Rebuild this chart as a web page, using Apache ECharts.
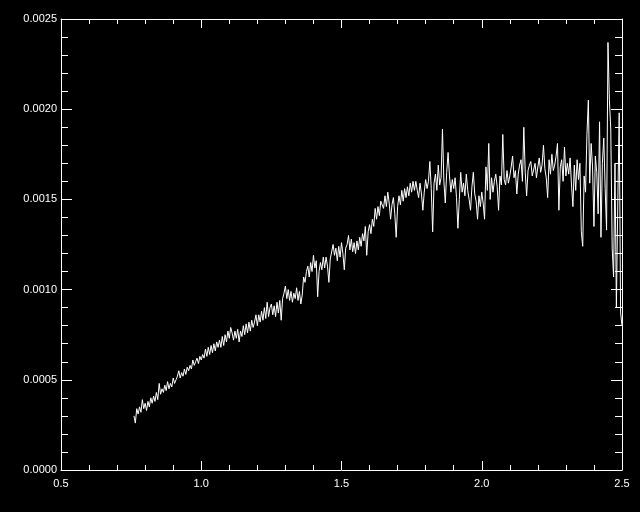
<!DOCTYPE html>
<html>
<head>
<meta charset="utf-8">
<script src="https://cdn.jsdelivr.net/npm/echarts@6/dist/echarts.min.js"></script>
<style>
html,body{margin:0;padding:0;background:#000;}
#chart{width:640px;height:512px;}
</style>
</head>
<body>
<div id="chart"></div>
<script>
// x sampling of the spectrum
var xStart = 0.76;
var xStep = 0.005;
// y values in units of 1e-4
var yValues = [
3.0, 2.6, 3.4, 3.1, 3.5, 3.2, 3.9, 3.4, 3.7, 3.3,
3.8, 3.5, 4.0, 3.7, 4.1, 3.8, 4.3, 3.9, 4.8, 4.2,
4.5, 4.3, 4.7, 4.4, 4.9, 4.5, 4.8, 4.6, 5.1, 4.8,
5.0, 5.2, 5.5, 5.1, 5.4, 5.2, 5.6, 5.3, 5.7, 5.5,
5.8, 5.6, 6.1, 5.8, 6.0, 6.2, 5.9, 6.3, 6.1, 6.4,
6.2, 6.7, 6.3, 6.8, 6.4, 6.9, 6.5, 7.0, 6.6, 7.1,
6.8, 7.2, 6.8, 7.4, 6.9, 7.5, 7.1, 7.7, 7.3, 7.9,
7.6, 7.2, 7.7, 7.3, 7.8, 7.1, 7.7, 7.4, 8.0, 7.5,
8.1, 7.6, 8.2, 7.7, 8.3, 7.9, 8.2, 8.6, 8.0, 8.6,
8.2, 8.8, 8.3, 9.0, 8.4, 9.3, 8.5, 9.0, 9.2, 8.6,
9.1, 8.5, 9.3, 8.7, 9.4, 8.3, 9.5, 9.8, 10.2, 9.5,
10.0, 9.4, 9.9, 9.3, 9.8, 9.5, 10.1, 9.4, 9.9, 9.2,
9.7, 10.7, 10.4, 11.0, 11.3, 10.7, 11.5, 11.0, 11.9, 11.2,
11.6, 9.6, 11.0, 11.5, 11.1, 11.8, 11.2, 11.8, 11.3, 10.4,
11.7, 11.8, 12.5, 11.9, 12.3, 11.6, 12.4, 11.8, 12.6, 12.0,
11.1, 12.3, 12.5, 13.0, 12.2, 12.8, 12.1, 12.6, 12.0, 12.7,
12.2, 12.9, 12.4, 13.1, 12.7, 13.5, 11.9, 13.2, 13.6, 13.1,
13.9, 13.5, 14.5, 13.9, 14.6, 14.1, 14.9, 15.0, 14.5, 15.2,
14.6, 15.4, 14.8, 13.9, 14.7, 15.1, 14.2, 12.9, 14.6, 15.2,
14.7, 15.5, 14.9, 15.6, 15.1, 15.7, 15.2, 15.9, 15.4, 16.0,
15.5, 16.0, 15.5, 15.1, 15.9, 15.3, 14.4, 15.4, 16.1, 15.6,
16.0, 17.1, 15.6, 13.2, 15.9, 16.4, 15.5, 16.9, 15.8, 16.2,
18.9, 16.0, 14.8, 16.5, 17.6, 16.3, 15.4, 16.1, 15.6, 16.2,
15.1, 13.4, 15.0, 16.5, 15.4, 15.9, 15.2, 16.4, 15.5, 15.0,
14.4, 15.7, 16.5, 15.3, 14.9, 13.9, 15.2, 14.6, 15.4, 14.8,
13.9, 16.8, 15.5, 18.1, 15.0, 16.2, 15.4, 16.0, 16.4, 15.7,
14.4, 16.3, 15.8, 18.6, 16.1, 15.8, 16.6, 15.9, 16.3, 16.8,
17.4, 16.2, 16.6, 15.3, 16.4, 16.9, 17.2, 16.0, 19.0, 16.5,
15.2, 16.6, 16.9, 17.1, 16.3, 16.4, 17.0, 16.2, 16.8, 17.3,
16.5, 16.9, 18.0, 16.7, 16.2, 15.1, 17.2, 16.4, 17.5, 16.6,
16.9, 17.4, 18.1, 14.4, 16.8, 17.2, 16.0, 17.9, 16.3, 17.0,
16.4, 17.3, 15.8, 14.6, 16.9, 15.5, 17.2, 16.1, 17.0, 13.2,
12.4, 16.3, 15.4, 18.6, 20.5, 15.9, 18.1, 16.8, 13.5, 17.4,
16.5, 14.2, 19.3, 12.9, 17.0, 18.4, 15.6, 13.3, 23.7, 20.5,
18.9, 12.3, 10.7, 17.0, 9.0, 14.8, 19.8, 8.7, 8.0
];
var yScale = 1e-4;
var xTicks = ['0.5', '1.0', '1.5', '2.0', '2.5'];
var yTicks = ['0.0000', '0.0005', '0.0010', '0.0015', '0.0020', '0.0025'];

var data = yValues.map(function (v, i) {
  return [+(xStart + xStep * i).toFixed(4), v * yScale];
});

var font = 'Liberation Sans, Arial, sans-serif';
var white = '#ffffff';

function xAxisCfg(pos, showLabels) {
  return {
    type: 'value', position: pos, min: 0.5, max: 2.5, interval: 0.5,
    axisLine: { show: true, onZero: false, lineStyle: { color: white, width: 1 } },
    axisTick: { show: true, inside: true, length: 9, lineStyle: { color: white } },
    minorTick: { show: true, splitNumber: 5, length: 5, lineStyle: { color: white } },
    splitLine: { show: false },
    axisLabel: {
      show: showLabels, color: white, fontFamily: font, fontSize: 11, margin: 8,
      formatter: function (v) { return xTicks[Math.round((v - 0.5) / 0.5)]; }
    }
  };
}
function yAxisCfg(pos, showLabels) {
  return {
    type: 'value', position: pos, min: 0, max: 0.0025, interval: 0.0005,
    axisLine: { show: true, onZero: false, lineStyle: { color: white, width: 1 } },
    axisTick: { show: true, inside: true, length: 11, lineStyle: { color: white } },
    minorTick: { show: true, splitNumber: 5, length: 7, lineStyle: { color: white } },
    splitLine: { show: false },
    axisLabel: {
      show: showLabels, color: white, fontFamily: font, fontSize: 11, margin: 4,
      formatter: function (v) { return yTicks[Math.round(v / 0.0005)]; }
    }
  };
}

var chart = echarts.init(document.getElementById('chart'), null, { renderer: 'canvas' });
chart.setOption({
  backgroundColor: '#000000',
  animation: false,
  grid: { left: 61, right: 18, top: 19, bottom: 42, containLabel: false },
  xAxis: [xAxisCfg('bottom', true), xAxisCfg('top', false)],
  yAxis: [yAxisCfg('left', true), yAxisCfg('right', false)],
  series: [{
    type: 'line',
    data: data,
    xAxisIndex: 0,
    yAxisIndex: 0,
    showSymbol: false,
    lineStyle: { color: white, width: 1 },
    clip: true
  }]
});
</script>
</body>
</html>
